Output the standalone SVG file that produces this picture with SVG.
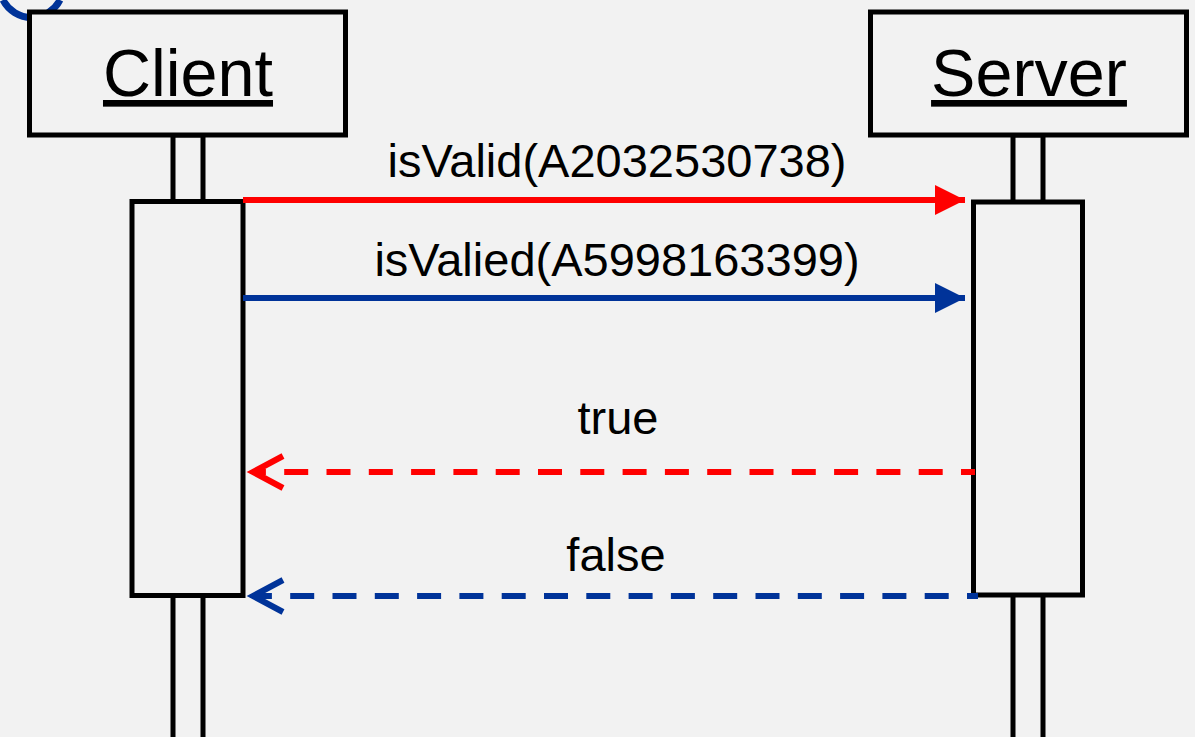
<svg xmlns="http://www.w3.org/2000/svg" width="1195" height="737" viewBox="0 0 1195 737">
<style>
  .box { fill: #f2f2f2; stroke: #000; stroke-width: 5; }
  .lbl { font-family: "Liberation Sans", Arial, sans-serif; font-size: 47px; fill: #000; text-anchor: middle; }
  .title { font-family: "Liberation Sans", Arial, sans-serif; font-size: 66.5px; fill: #000; text-anchor: middle; text-decoration: underline; }
  .red { stroke: #ff0000; }
  .blue { stroke: #003399; }
</style>
<defs>
  <marker id="fillRed" markerUnits="userSpaceOnUse" markerWidth="32" markerHeight="32" refX="30" refY="16" orient="auto">
    <path d="M0 1 L30 16 L0 31 Z" fill="#ff0000"/>
  </marker>
  <marker id="fillBlue" markerUnits="userSpaceOnUse" markerWidth="32" markerHeight="32" refX="30" refY="16" orient="auto">
    <path d="M0 1 L30 16 L0 31 Z" fill="#003399"/>
  </marker>
</defs>
<rect width="1195" height="737" fill="#f2f2f2"/>
<path d="M3 0 A32 32 0 0 0 60 0" fill="none" stroke="#003399" stroke-width="7"/>

<g id="client">
  <rect class="box" x="173" y="135" width="30" height="620"/>
  <rect class="box" x="29.5" y="12" width="316" height="123"/>
  <text class="title" x="188" y="96">Client</text>
  <rect class="box" x="132" y="201.5" width="111" height="394"/>
</g>

<g id="server">
  <rect class="box" x="1013" y="135" width="30" height="620"/>
  <rect class="box" x="870.5" y="12" width="316" height="123"/>
  <text class="title" x="1029" y="96">Server</text>
  <rect class="box" x="973.5" y="202" width="109" height="393"/>
</g>

<g id="connectors" fill="none">
  <line class="red" x1="243" y1="200" x2="965" y2="200" stroke-width="6" marker-end="url(#fillRed)"/>
  <line class="blue" x1="243" y1="298" x2="965" y2="298" stroke-width="6" marker-end="url(#fillBlue)"/>
  <line class="red" x1="975" y1="472" x2="256" y2="472" stroke-width="6" stroke-dasharray="24 18.3" stroke-dashoffset="10"/>
  <polyline class="red" points="283,456 253,472 283,488" stroke-width="6"/>
  <line class="blue" x1="978" y1="596" x2="256" y2="596" stroke-width="6" stroke-dasharray="24 18.3" stroke-dashoffset="13"/>
  <polyline class="blue" points="283,580 253,596 283,612" stroke-width="6"/>
</g>

<g id="labels">
  <text class="lbl" x="617" y="177">isValid(A2032530738)</text>
  <text class="lbl" x="617" y="276">isValied(A5998163399)</text>
  <text class="lbl" x="618" y="434">true</text>
  <text class="lbl" x="616" y="571">false</text>
</g>
</svg>
